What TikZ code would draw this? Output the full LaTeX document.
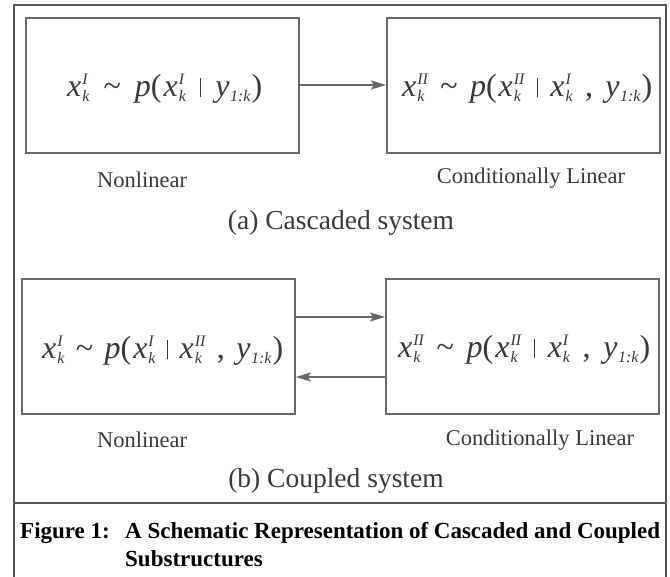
\documentclass[tikz,border=0pt]{standalone}
\usepackage{fontspec}
\setmainfont{Liberation Serif}
\usetikzlibrary{arrows.meta}
\newcommand\scriptf{\fontsize{16}{16}\selectfont\itshape}
\newdimen\scrw
\newcommand\scripts[2]{%
  \setbox0\hbox{\scriptf #1}\setbox2\hbox{\scriptf #2}%
  \ifdim\wd0>\wd2 \scrw=\wd0 \else \scrw=\wd2 \fi
  \rlap{\raise12pt\box0}\rlap{\lower5pt\box2}\kern\scrw}
\newcommand\xv[1]{\textit{x}\kern1pt\scripts{#1}{k}}
\newcommand\yv{\textit{y}\kern0.5pt\scripts{}{1:k}}
\newcommand\gap{\hspace{4pt plus 1fil}}
\newcommand\tsim{\gap\textasciitilde\gap}
\newcommand\tbar{\gap\rule[-0.5pt]{1.3pt}{19pt}\gap}
\newcommand\tcomma{\gap,\gap}
\newcommand\eqbox[2]{\makebox[#1][s]{#2}}
\definecolor{framec}{HTML}{555555}
\definecolor{boxc}{HTML}{686868}
\definecolor{txtc}{HTML}{3A3A3A}
\begin{document}
\begin{tikzpicture}[x=1pt,y=-1pt,
  sysbox/.style={draw=boxc,line width=1.8pt,minimum width=273pt,minimum height=135pt,anchor=north west,inner sep=0pt},
  eq/.style={text=txtc,anchor=base west,inner sep=0pt,font=\fontsize{32}{36}\selectfont},
  lab/.style={text=txtc,anchor=base,inner sep=0pt,font=\fontsize{22.5}{26}\selectfont},
  subcap/.style={text=txtc,anchor=base,inner sep=0pt,font=\fontsize{27.5}{30}\selectfont},
  figcap/.style={anchor=base west,inner sep=0pt,font=\bfseries\fontsize{23}{27}\selectfont},
  conn/.style={draw=boxc,line width=1.7pt,-{Stealth[length=15pt,width=9pt,inset=3pt]}}]
\useasboundingbox (0,0) rectangle (670,577);
\fill[white] (0,0) rectangle (670,577);
% frame
\draw[framec,line width=1.4pt] (14,577) -- (14,5) -- (666,5) -- (666,577);
\draw[framec,line width=1.4pt] (14,503) -- (666,503);
% (a) cascaded
\node[sysbox] (a1) at (25,17) {};
\node[sysbox] (a2) at (386,17) {};
\node[eq] (ea1) at (67,97) {\eqbox{195pt}{\xv{I}\tsim\textit{p}(\kern2pt\xv{I}\tbar\yv\kern1pt)}};
\node[eq] (ea2) at (402,97) {\eqbox{250pt}{\xv{II}\tsim\textit{p}(\kern2pt\xv{II}\tbar\xv{I}\tcomma\yv\kern1pt)}};
\draw[conn] (a1.east |- 0,85) -- (a2.west |- 0,85);
\node[lab] (la1) at (142,188) {Nonlinear};
\node[lab] (la2) at (531,184) {Conditionally Linear};
\node[subcap] (ca) at (341,230) {(a) Cascaded system};
% (b) coupled
\node[sysbox] (b1) at (21,278) {};
\node[sysbox] (b2) at (385,278) {};
\node[eq] (eb1) at (42,359) {\eqbox{241pt}{\xv{I}\tsim\textit{p}(\kern2pt\xv{I}\tbar\xv{II}\tcomma\yv\kern1pt)}};
\node[eq] (eb2) at (398,358) {\eqbox{252pt}{\xv{II}\tsim\textit{p}(\kern2pt\xv{II}\tbar\xv{I}\tcomma\yv\kern1pt)}};
\draw[conn] (b1.east |- 0,317) -- (b2.west |- 0,317);
\draw[conn] (b2.west |- 0,377) -- (b1.east |- 0,377);
\node[lab] (lb1) at (142,448) {Nonlinear};
\node[lab] (lb2) at (540,446) {Conditionally Linear};
\node[subcap] (cb) at (336,487) {(b) Coupled system};
% caption
\node[figcap] (fig) at (20,538) {Figure 1:};
\node[figcap] (captxt) at (125,538) {A Schematic Representation of Cascaded and Coupled};
\node[figcap] (captxt2) at (125,566) {Substructures};
\end{tikzpicture}
\end{document}
